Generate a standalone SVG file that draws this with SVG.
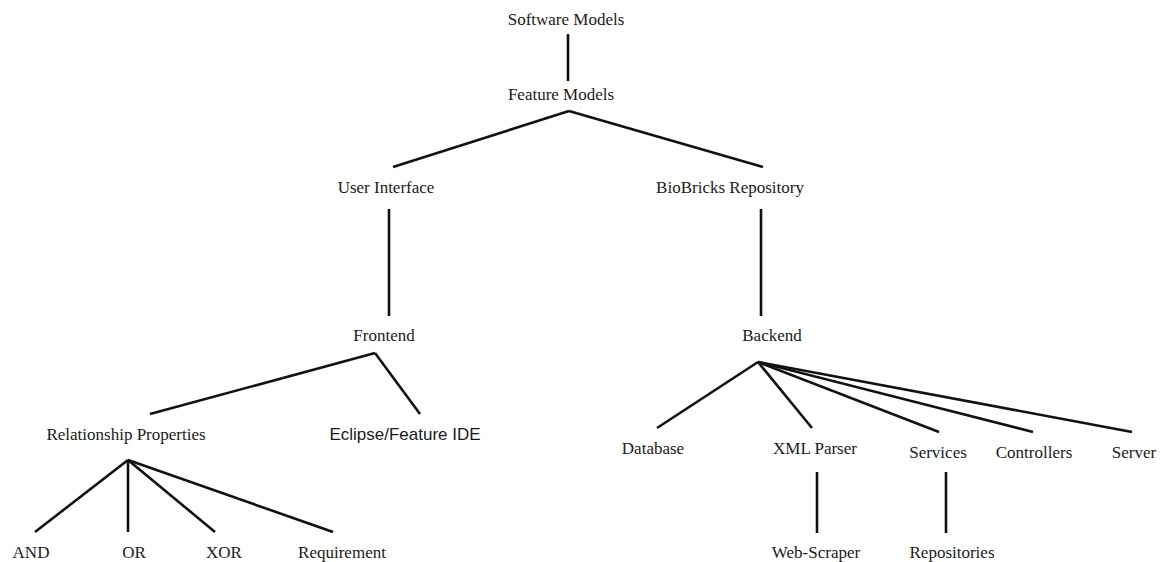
<svg xmlns="http://www.w3.org/2000/svg" width="1161" height="562" viewBox="0 0 1161 562">
<style>
.t{font-family:"Liberation Serif","Times New Roman",serif;font-size:17px;fill:#1a1a1a;text-anchor:middle}
.s{font-family:"Liberation Sans",Arial,sans-serif;font-size:17px;fill:#1a1a1a;text-anchor:middle}
.c line{stroke:#111;stroke-width:2.6;stroke-linecap:butt}
</style>
<rect width="1161" height="562" fill="#fff"/>
<g class="c" id="connectors">
<line x1="568" y1="34" x2="568" y2="81"/>
<line x1="569" y1="111" x2="393" y2="167"/>
<line x1="569" y1="111" x2="763" y2="167"/>
<line x1="389" y1="209" x2="389" y2="316"/>
<line x1="761" y1="209" x2="761" y2="316"/>
<line x1="375" y1="353" x2="150" y2="414"/>
<line x1="375" y1="353" x2="420" y2="414"/>
<line x1="128" y1="460" x2="35" y2="532"/>
<line x1="128" y1="460" x2="128" y2="532"/>
<line x1="128" y1="460" x2="215" y2="532"/>
<line x1="128" y1="460" x2="333" y2="532"/>
<line x1="758" y1="362" x2="657" y2="428"/>
<line x1="758" y1="362" x2="812" y2="428"/>
<line x1="758" y1="362" x2="939" y2="432"/>
<line x1="758" y1="362" x2="1033" y2="432"/>
<line x1="758" y1="362" x2="1132" y2="432"/>
<line x1="817" y1="472" x2="817" y2="533"/>
<line x1="946" y1="472" x2="946" y2="533"/>
</g>
<g id="software-models"><text class="t" x="566" y="25">Software Models</text></g>
<g id="feature-models"><text class="t" x="561" y="100">Feature Models</text></g>
<g id="user-interface"><text class="t" x="386" y="193">User Interface</text></g>
<g id="biobricks-repository"><text class="t" x="730" y="193">BioBricks Repository</text></g>
<g id="frontend"><text class="t" x="384" y="341">Frontend</text></g>
<g id="backend"><text class="t" x="772" y="341">Backend</text></g>
<g id="relationship-properties"><text class="t" x="126" y="440">Relationship Properties</text></g>
<g id="eclipse-feature-ide"><text class="s" x="405" y="440">Eclipse/Feature IDE</text></g>
<g id="and"><text class="t" x="31" y="558">AND</text></g>
<g id="or"><text class="t" x="134" y="558">OR</text></g>
<g id="xor"><text class="t" x="224" y="558">XOR</text></g>
<g id="requirement"><text class="t" x="342" y="558">Requirement</text></g>
<g id="database"><text class="t" x="653" y="454">Database</text></g>
<g id="xml-parser"><text class="t" x="815" y="454">XML Parser</text></g>
<g id="services"><text class="t" x="938" y="458">Services</text></g>
<g id="controllers"><text class="t" x="1034" y="458">Controllers</text></g>
<g id="server"><text class="t" x="1134" y="458">Server</text></g>
<g id="web-scraper"><text class="t" x="816" y="558">Web-Scraper</text></g>
<g id="repositories"><text class="t" x="952" y="558">Repositories</text></g>
</svg>
